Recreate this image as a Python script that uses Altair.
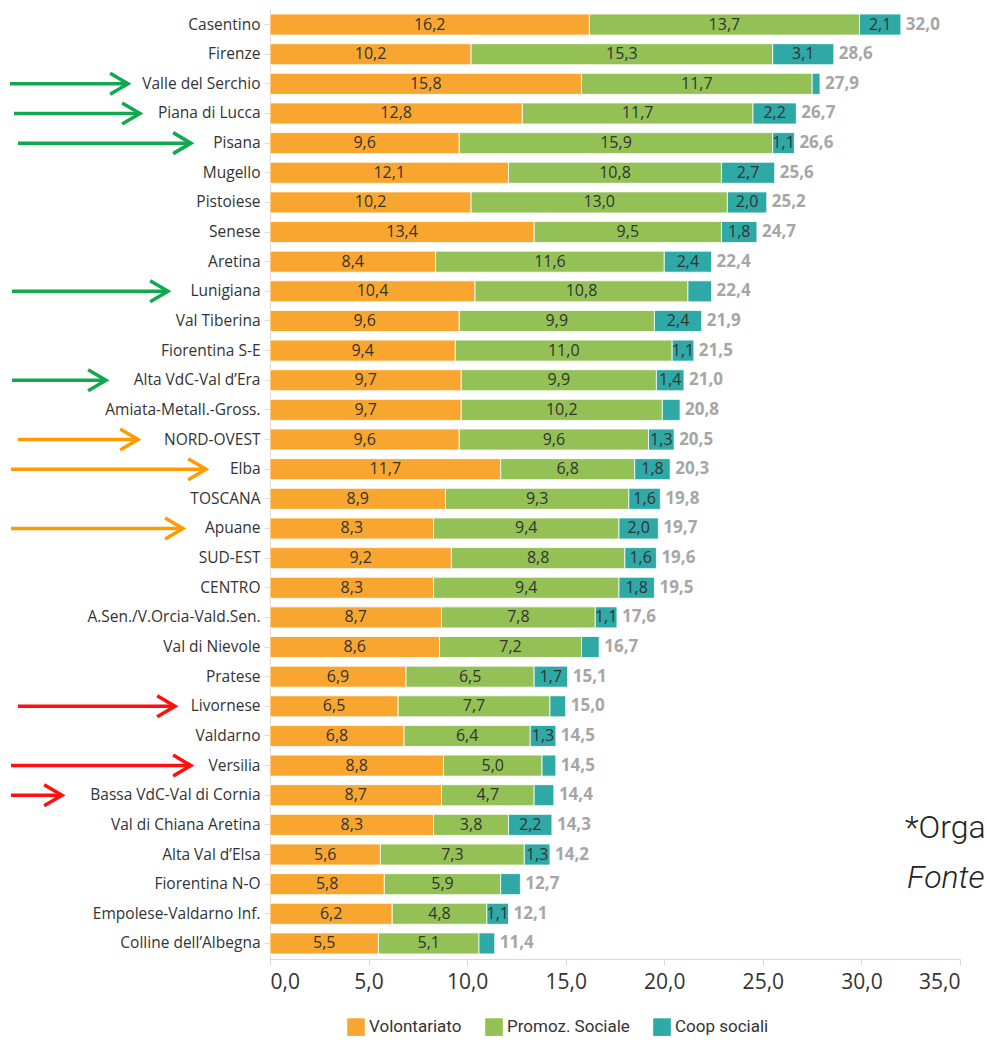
import altair as alt
import pandas as pd

categories = [
    "Casentino", "Firenze", "Valle del Serchio", "Piana di Lucca", "Pisana", "Mugello",
    "Pistoiese", "Senese", "Aretina", "Lunigiana", "Val Tiberina", "Fiorentina S-E",
    "Alta VdC-Val d’Era", "Amiata-Metall.-Gross.", "NORD-OVEST", "Elba", "TOSCANA",
    "Apuane", "SUD-EST", "CENTRO", "A.Sen./V.Orcia-Vald.Sen.", "Val di Nievole",
    "Pratese", "Livornese", "Valdarno", "Versilia", "Bassa VdC-Val di Cornia",
    "Val di Chiana Aretina", "Alta Val d’Elsa", "Fiorentina N-O",
    "Empolese-Valdarno Inf.", "Colline dell’Albegna",
]
volontariato = [16.2, 10.2, 15.8, 12.8, 9.6, 12.1, 10.2, 13.4, 8.4, 10.4, 9.6, 9.4,
                9.7, 9.7, 9.6, 11.7, 8.9, 8.3, 9.2, 8.3, 8.7, 8.6, 6.9, 6.5, 6.8,
                8.8, 8.7, 8.3, 5.6, 5.8, 6.2, 5.5]
promoz_sociale = [13.7, 15.3, 11.7, 11.7, 15.9, 10.8, 13.0, 9.5, 11.6, 10.8, 9.9, 11.0,
                  9.9, 10.2, 9.6, 6.8, 9.3, 9.4, 8.8, 9.4, 7.8, 7.2, 6.5, 7.7, 6.4,
                  5.0, 4.7, 3.8, 7.3, 5.9, 4.8, 5.1]
coop_sociali = [2.1, 3.1, 0.4, 2.2, 1.1, 2.7, 2.0, 1.8, 2.4, 1.2, 2.4, 1.1,
                1.4, 0.9, 1.3, 1.8, 1.6, 2.0, 1.6, 1.8, 1.1, 0.9, 1.7, 0.8, 1.3,
                0.7, 1.0, 2.2, 1.3, 1.0, 1.1, 0.8]
totals = [32.0, 28.6, 27.9, 26.7, 26.6, 25.6, 25.2, 24.7, 22.4, 22.4, 21.9, 21.5,
          21.0, 20.8, 20.5, 20.3, 19.8, 19.7, 19.6, 19.5, 17.6, 16.7, 15.1, 15.0,
          14.5, 14.5, 14.4, 14.3, 14.2, 12.7, 12.1, 11.4]
coop_unlabeled = ["Valle del Serchio", "Lunigiana", "Amiata-Metall.-Gross.", "Val di Nievole",
                  "Livornese", "Versilia", "Bassa VdC-Val di Cornia", "Fiorentina N-O",
                  "Colline dell’Albegna"]

series = ["Volontariato", "Promoz. Sociale", "Coop sociali"]
series_colors = ["#F9A630", "#93C156", "#2EA9A5"]

# annotation arrows (left of the category labels)
arrow_cats = ["Valle del Serchio", "Piana di Lucca", "Pisana", "Lunigiana", "Alta VdC-Val d’Era",
              "NORD-OVEST", "Elba", "Apuane", "Livornese", "Versilia", "Bassa VdC-Val di Cornia"]
arrow_colors = ["#12A84E"] * 5 + ["#FF9A00"] * 3 + ["#FF1010"] * 3
arrow_start_px = [10, 14, 18, 12, 12, 18, 11, 11, 18, 11, 11]
arrow_tip_px = [128, 140, 191, 168, 106, 138, 206, 183, 175, 191, 62]

notes = ["*Orga", "Fonte"]

LEFT = 270


def fmt(v):
    return f"{v:.1f}".replace(".", ",")


rows = []
for i, c in enumerate(categories):
    start = 0.0
    for s, vals in zip(series, [volontariato, promoz_sociale, coop_sociali]):
        v = vals[i]
        lab = fmt(v)
        if s == "Coop sociali" and c in coop_unlabeled:
            lab = ""
        rows.append({"cat": c, "series": s, "x0": start, "x1": start + v,
                     "xm": start + v / 2, "label": lab})
        start += v
df = pd.DataFrame(rows)
df_tot = pd.DataFrame({"cat": categories, "total": totals,
                       "tlabel": [fmt(t) for t in totals]})
df_arr = pd.DataFrame({"cat": arrow_cats, "col": arrow_colors,
                       "ax0": [s - LEFT for s in arrow_start_px],
                       "ax1": [t - LEFT for t in arrow_tip_px]})

FONT = "Open Sans"

y_enc = alt.Y("cat:N", sort=categories, title=None,
              scale=alt.Scale(paddingInner=0.29, paddingOuter=0.17),
              axis=alt.Axis(labelFontSize=15.5, labelColor="#333333", labelFont=FONT,
                            tickColor="#D9D9D9", tickSize=6, domainColor="#D9D9D9",
                            labelPadding=4, labelLimit=0))
x_scale = alt.Scale(domain=[0, 35], nice=False, zero=True)

bars = alt.Chart(df).mark_bar(stroke="white", strokeWidth=0.8).encode(
    y=y_enc,
    x=alt.X("x0:Q", scale=x_scale, title=None,
            axis=alt.Axis(values=[0, 5, 10, 15, 20, 25, 30, 35], grid=False,
                          labelExpr="replace(format(datum.value, '.1f'), '.', ',')",
                          labelFontSize=21, labelColor="#333333", labelFont=FONT,
                          tickColor="#D9D9D9", tickSize=6, domainColor="#D9D9D9",
                          labelPadding=6)),
    x2="x1:Q",
    color=alt.Color("series:N", scale=alt.Scale(domain=series, range=series_colors),
                    title=None,
                    legend=alt.Legend(orient="none", legendX=77, legendY=1009,
                                      direction="horizontal", symbolType="square",
                                      symbolSize=310, symbolStrokeWidth=0,
                                      labelFontSize=17, labelColor="#333333",
                                      labelFont="Roboto", columnPadding=23, labelOffset=4)),
)

seg_text = alt.Chart(df).mark_text(fontSize=16, color="#333333", font=FONT).encode(
    y=alt.Y("cat:N", sort=categories),
    x=alt.X("xm:Q", scale=x_scale),
    text="label:N",
)

tot_text = alt.Chart(df_tot).mark_text(align="left", dx=5, fontSize=17, fontWeight="bold",
                                       color="#A6A6A6", font=FONT).encode(
    y=alt.Y("cat:N", sort=categories),
    x=alt.X("total:Q", scale=x_scale),
    text="tlabel:N",
)

note_df = pd.DataFrame({"t": notes, "k": [0, 1]})
note1 = alt.Chart(note_df[note_df.k == 0]).mark_text(
    align="left", baseline="middle", fontSize=32, font="Roboto", fontWeight=300,
    color="#222222").encode(x=alt.value(635), y=alt.value(819), text="t:N")
note2 = alt.Chart(note_df[note_df.k == 1]).mark_text(
    align="left", baseline="middle", fontSize=32, font="Roboto", fontStyle="italic",
    fontWeight=300, color="#222222").encode(x=alt.value(637), y=alt.value(869), text="t:N")

main = alt.layer(bars, seg_text, tot_text, note1, note2)

arr_line = alt.Chart(df_arr).mark_rule(strokeWidth=3.5).encode(
    y=alt.Y("cat:N", sort=categories),
    x=alt.X("ax0:Q", scale=None, axis=None),
    x2="ax1:Q",
    color=alt.Color("col:N", scale=None, legend=None),
)
arr_head = alt.Chart(df_arr).mark_point(
    shape="M -1.7 -1 L 0 0 L -1.7 1", filled=False, size=441, strokeWidth=3.5,
    opacity=1).encode(
    y=alt.Y("cat:N", sort=categories),
    x=alt.X("ax1:Q", scale=None, axis=None),
    color=alt.Color("col:N", scale=None, legend=None),
)

chart = alt.layer(main, arr_line, arr_head).resolve_scale(
    x="independent", color="independent"
).properties(
    width=690, height=950,
    autosize=alt.AutoSizeParams(type="none"),
    padding={"left": LEFT, "top": 9, "right": 26, "bottom": 85},
).configure_view(strokeWidth=0)

chart.save("out.html", embed_options={"renderer": "svg", "actions": False})
